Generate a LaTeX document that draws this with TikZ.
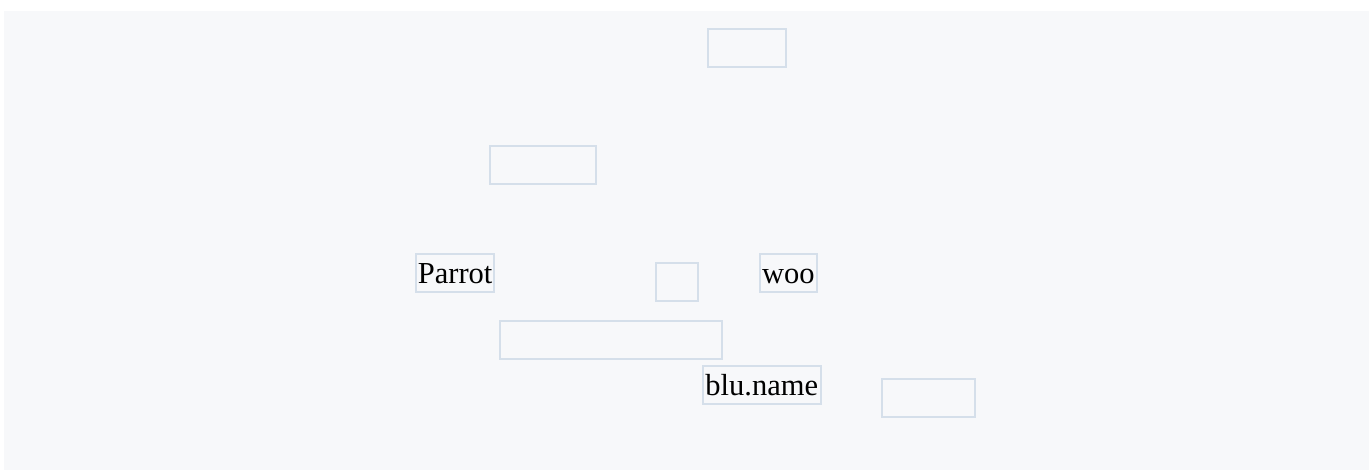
\documentclass[tikz,border=0pt]{standalone}
\usepackage{fontspec}
\setmainfont{Liberation Serif}
\definecolor{bgcol}{HTML}{F7F8FA}
\definecolor{boxline}{HTML}{D5DFEA}
\begin{document}
\begin{tikzpicture}[x=1pt,y=-1pt,
  box/.style={draw=boxline, line width=2pt, fill=bgcol, inner sep=0pt,
    minimum height=38pt, text height=20.4pt, text depth=0pt,
    font=\fontsize{30.5}{35}\selectfont, text=black}]
\useasboundingbox (0,0) rectangle (1369,470);
\fill[bgcol] (4,11) rectangle (1369,470);
\node[box, minimum width=77.4pt] (top) at (747,48.2) {};
\node[box, minimum width=105.4pt] (second) at (543,164.7) {};
\node[box, minimum width=77.7pt] (parrot) at (455.2,273.4) {Parrot};
\node[box, minimum width=41.7pt] (small) at (676.8,281.8) {};
\node[box, minimum width=56.7pt] (woo) at (788.3,273.3) {woo};
\node[box, minimum width=221.7pt] (wide) at (610.8,340.3) {};
\node[box, minimum width=117.7pt] (blu) at (761.8,385.3) {blu.name};
\node[box, minimum width=92.7pt] (br) at (928.7,398.2) {};
\end{tikzpicture}
\end{document}
